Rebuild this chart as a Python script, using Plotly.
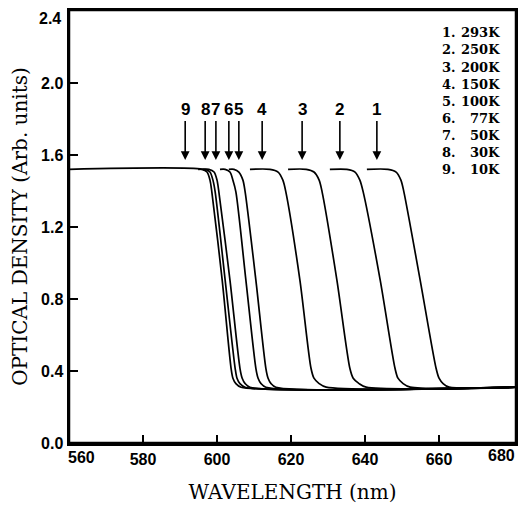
import plotly.graph_objects as go

# ---- data ----
# optical density levels of the read points (shared by every curve)
od_levels = [1.52, 1.52, 1.505, 1.46, 1.395, 0.905, 0.415, 0.36, 0.33, 0.31, 0.31]

# wavelengths (nm) of the read points of each curve
wl_1 = [640.5, 646.2, 648.4, 649.7, 650.5, 654.9, 659.2, 660.0, 661.1, 662.7, 680.8]
wl_2 = [630.5, 635.1, 637.3, 638.6, 639.5, 644.1, 648.1, 648.9, 650.3, 652.2, 680.8]
wl_3 = [619.2, 624.1, 626.2, 627.6, 628.4, 632.4, 635.9, 636.8, 638.4, 640.3, 680.8]
wl_4 = [608.9, 614.3, 616.5, 617.8, 618.6, 622.4, 625.4, 626.2, 627.6, 629.5, 680.8]
wl_5 = [603.2, 604.6, 605.9, 607.0, 607.6, 610.5, 613.2, 613.8, 614.6, 615.9, 680.8]
wl_6 = [600.8, 602.2, 603.5, 604.3, 605.1, 607.8, 610.5, 611.1, 611.9, 613.2, 680.8]
wl_7 = [596.2, 597.8, 599.2, 600.0, 600.5, 603.5, 606.2, 606.8, 607.6, 608.9, 680.8]
wl_8 = [594.9, 596.8, 598.1, 598.9, 599.5, 602.2, 604.9, 605.4, 606.2, 607.6, 680.8]
wl_9 = [560.0, 595.9, 597.3, 598.1, 598.6, 601.4, 603.8, 604.3, 605.1, 606.5, 680.8]

curve_ids = ["1", "2", "3", "4", "5", "6", "7", "8", "9"]
temps = ["293K", "250K", "200K", "150K", "100K", "77K", "50K", "30K", "10K"]
arrow_nm = [643.2, 633.2, 623.0, 612.2, 605.9, 603.2, 599.7, 596.8, 591.4]
arrow_od = 1.572

x_ticks = [580, 600, 620, 640, 660]
y_ticks = [0.0, 0.4, 0.8, 1.2, 1.6, 2.0]
y_ticktext = ["0.0", "0.4", "0.8", "1.2", "1.6", "2.0"]

curves = [wl_1, wl_2, wl_3, wl_4, wl_5, wl_6, wl_7, wl_8, wl_9]

fig = go.Figure()
for cid, wl in zip(curve_ids, curves):
    fig.add_trace(go.Scatter(
        x=wl, y=od_levels, mode="lines", name=cid,
        line=dict(color="black", width=1.7, shape="spline", smoothing=0.8),
        hoverinfo="skip"))

tick_font = dict(family="Liberation Sans", size=16, color="black", weight="bold")
serif = "DejaVu Serif"

ann = []
# arrows with curve numbers
for cid, xa in zip(curve_ids, arrow_nm):
    ann.append(dict(x=xa, y=arrow_od, xref="x", yref="y", text=cid,
                    showarrow=True, ax=0, ay=-50, arrowhead=2, arrowsize=1.1,
                    arrowwidth=1.6, arrowcolor="black",
                    font=dict(family="Liberation Sans", size=17, color="black", weight="bold")))
# temperature key
for i, (cid, t) in enumerate(zip(curve_ids, temps)):
    yy = 2.278 - i * 0.095
    ann.append(dict(x=660.3, y=yy, xref="x", yref="y", text=cid + ".", showarrow=False,
                    xanchor="left", yanchor="middle",
                    font=dict(family=serif, size=13, color="black", weight="bold")))
    ann.append(dict(x=677.0, y=yy, xref="x", yref="y", text=t, showarrow=False,
                    xanchor="right", yanchor="middle",
                    font=dict(family=serif, size=13, color="black", weight="bold")))
# end tick labels placed inside like the reference
ann.append(dict(x=563.5, y=0, xref="x", yref="paper", yshift=-14, text="560",
                showarrow=False, yanchor="middle", font=tick_font))
ann.append(dict(x=677.0, y=0, xref="x", yref="paper", yshift=-12, text="680",
                showarrow=False, yanchor="middle", font=tick_font))
ann.append(dict(x=0, y=2.356, xref="paper", yref="y", xshift=-6, text="2.4",
                showarrow=False, xanchor="right", yanchor="middle", font=tick_font))

fig.update_layout(
    width=518, height=506,
    margin=dict(l=69, r=2, t=10, b=63),
    plot_bgcolor="white", paper_bgcolor="white",
    showlegend=False,
    annotations=ann,
    shapes=[dict(type="rect", xref="paper", yref="paper", x0=0, x1=1, y0=0, y1=1,
                 line=dict(color="black", width=2.5), layer="above")],
    xaxis=dict(range=[560, 680.8], tickvals=x_ticks, ticks="inside", ticklen=8,
               tickwidth=2, tickcolor="black", showline=True, linewidth=2.5,
               linecolor="black", mirror=True, showgrid=False, zeroline=False,
               tickfont=tick_font, automargin=False,
               title=dict(text="WAVELENGTH (nm)", standoff=19,
                          font=dict(family=serif, size=20, color="black"))),
    yaxis=dict(range=[0, 2.405], tickvals=y_ticks, ticktext=y_ticktext,
               ticks="inside", ticklen=9, tickwidth=2, tickcolor="black",
               showline=True, linewidth=2.5, linecolor="black", mirror=True,
               showgrid=False, zeroline=False, tickfont=tick_font, automargin=False,
               title=dict(text="OPTICAL DENSITY (Arb. units)", standoff=8,
                          font=dict(family=serif, size=20, color="black"))),
)

# remove the default 8 px page margin so the figure sits at the window corner
fig.write_html("out.html",
               config={"displayModeBar": False, "staticPlot": True},
               post_script="document.body.style.margin='0';document.body.style.overflow='hidden';")
